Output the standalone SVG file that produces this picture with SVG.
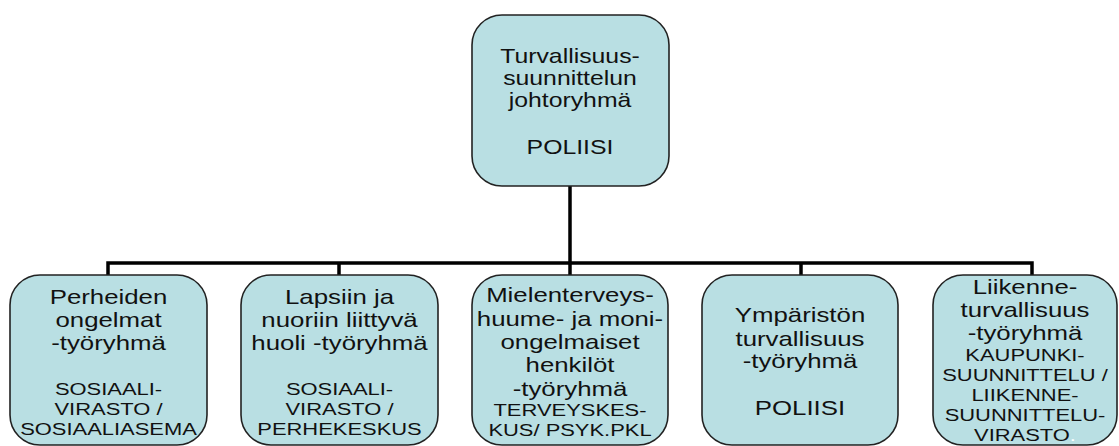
<svg xmlns="http://www.w3.org/2000/svg" width="1119" height="446" viewBox="0 0 1119 446">
<style>
.box{fill:#b9dfe3;stroke:#222;stroke-width:1.6}
.conn{stroke:#000;stroke-width:3.5;fill:none;stroke-linecap:square}
.t{font-family:"Liberation Sans",Arial,sans-serif;font-size:20px;fill:#111;text-anchor:middle}
.c{font-family:"Liberation Sans",Arial,sans-serif;font-size:17px;fill:#111;text-anchor:middle}
</style>
<rect width="1119" height="446" fill="#fff"/>
<g id="connectors">
<path class="conn" d="M570 186V263M108 263H1032M108 263V275M339 263V275M570 263V275M801 263V275M1032 263V275"/>
</g>
<g id="node-top">
<rect class="box" x="472" y="15" width="197" height="171" rx="30"/>
<g transform="translate(570 0) scale(1.24 1)">
<text class="t" x="0" y="63">Turvallisuus-</text>
<text class="t" x="0" y="85">suunnittelun</text>
<text class="t" x="0" y="107">johtoryhmä</text>
<text class="t" x="0" y="154">POLIISI</text>
</g>
</g>
<g id="node-1">
<rect class="box" x="10" y="275" width="197" height="170" rx="30"/>
<g transform="translate(108.5 0) scale(1.29 1)">
<text class="t" x="0" y="304">Perheiden</text>
<text class="t" x="0" y="327">ongelmat</text>
<text class="t" x="0" y="350.5">-työryhmä</text>
<text class="c" x="0" y="395.5">SOSIAALI-</text>
<text class="c" x="0" y="415">VIRASTO /</text>
<text class="c" x="0" y="435">SOSIAALIASEMA</text>
</g>
</g>
<g id="node-2">
<rect class="box" x="241" y="275" width="197" height="170" rx="30"/>
<g transform="translate(339.5 0) scale(1.29 1)">
<text class="t" x="0" y="304">Lapsiin ja</text>
<text class="t" x="0" y="327">nuoriin liittyvä</text>
<text class="t" x="0" y="350.5">huoli -työryhmä</text>
<text class="c" x="0" y="395.5">SOSIAALI-</text>
<text class="c" x="0" y="415">VIRASTO /</text>
<text class="c" x="0" y="435">PERHEKESKUS</text>
</g>
</g>
<g id="node-3">
<rect class="box" x="472" y="275" width="196" height="170" rx="30"/>
<g transform="translate(570 0) scale(1.29 1)">
<text class="t" x="0" y="302.5">Mielenterveys-</text>
<text class="t" x="0" y="326">huume- ja moni-</text>
<text class="t" x="0" y="349">ongelmaiset</text>
<text class="t" x="0" y="372.5">henkilöt</text>
<text class="t" x="0" y="396">-työryhmä</text>
<text class="c" x="0" y="416.5">TERVEYSKES-</text>
<text class="c" x="0" y="436">KUS/ PSYK.PKL</text>
</g>
</g>
<g id="node-4">
<rect class="box" x="702" y="275" width="196" height="170" rx="30"/>
<g transform="translate(800 0) scale(1.29 1)">
<text class="t" x="0" y="322.5">Ympäristön</text>
<text class="t" x="0" y="346">turvallisuus</text>
<text class="t" x="0" y="368.5">-työryhmä</text>
<text class="t" x="0" y="415">POLIISI</text>
</g>
</g>
<g id="node-5">
<rect class="box" x="933" y="275" width="184" height="170" rx="30"/>
<g transform="translate(1025 0) scale(1.29 1)">
<text class="t" x="0" y="294">Liikenne-</text>
<text class="t" x="0" y="317.5">turvallisuus</text>
<text class="t" x="0" y="340">-työryhmä</text>
<text class="c" x="0" y="361.5">KAUPUNKI-</text>
<text class="c" x="0" y="381">SUUNNITTELU /</text>
<text class="c" x="0" y="401.5">LIIKENNE-</text>
<text class="c" x="0" y="421">SUUNNITTELU-</text>
<text class="c" x="0" y="441.5">VIRASTO<tspan fill="#fff">.</tspan></text>
</g>
</g>
</svg>
